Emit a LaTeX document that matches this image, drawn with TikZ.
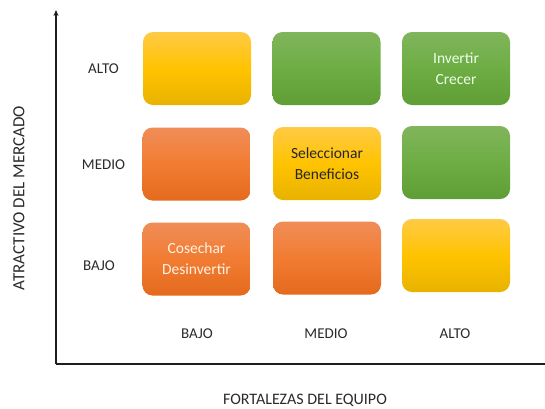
\documentclass[tikz,border=0pt]{standalone}
\usepackage{fontspec}
\setmainfont{Carlito}
\usetikzlibrary{arrows.meta}
\definecolor{ylT}{HTML}{FFCA45}
\definecolor{ylM}{HTML}{FFC300}
\definecolor{ylB}{HTML}{E8B200}
\definecolor{grT}{HTML}{80B55C}
\definecolor{grM}{HTML}{6EAD44}
\definecolor{grB}{HTML}{5E9E35}
\definecolor{orT}{HTML}{F08D58}
\definecolor{orM}{HTML}{F17C32}
\definecolor{orB}{HTML}{E46A1D}
\definecolor{axiscol}{HTML}{1E1E1E}
\definecolor{labcol}{HTML}{2A2A2A}
\begin{document}
\begin{tikzpicture}[x=1pt,y=-1pt,
  cell/.style={rounded corners=10pt, minimum width=108pt, minimum height=73pt,
    align=center, inner sep=0pt, font=\fontsize{15.5}{21}\selectfont},
  yel/.style={cell, top color=ylT, bottom color=ylB, middle color=ylM},
  grn/.style={cell, top color=grT, bottom color=grB, middle color=grM},
  org/.style={cell, top color=orT, bottom color=orB, middle color=orM},
  lab/.style={font=\fontsize{15}{18}\selectfont, text=labcol, inner sep=0pt},
  axis/.style={line width=1.4pt, draw=axiscol}]
\useasboundingbox (0,0) rectangle (545,408);
% boxes
\node[yel] (a1) at (197,68.5) {};
\node[grn] (a2) at (326.5,68.5) {};
\node[grn, text=white!92!green] (a3) at (456,68.5) {Invertir\\Crecer};
\node[org] (m1) at (196.5,164) {};
\node[yel, text=black!85] (m2) at (327,163.5) {Seleccionar\\Beneficios};
\node[grn] (m3) at (456,162.5) {};
\node[org, text=white!90!orange] (b1) at (196.5,259) {Cosechar\\Desinvertir};
\node[org] (b2) at (327,258) {};
\node[yel] (b3) at (456,255.5) {};
% row labels
\node[lab] (ralto) at (103.5,69) {ALTO};
\node[lab] (rmedio) at (103.5,164.5) {MEDIO};
\node[lab] (rbajo) at (99,266) {BAJO};
% column labels
\node[lab] (cbajo) at (197,334) {BAJO};
\node[lab] (cmedio) at (326,334) {MEDIO};
\node[lab] (calto) at (455,334) {ALTO};
% axes
\coordinate (o) at (56,364);
\coordinate (ytop) at (56,10);
\coordinate (xend) at (545,364);
\draw[axis, -{Stealth[length=6pt,width=5pt]}] (o) -- (ytop);
\draw[axis] (o) -- (xend);
% axis titles
\node[lab, font=\fontsize{16}{18}\selectfont] (xt) at (305,400) {FORTALEZAS DEL EQUIPO};
\node[lab, font=\fontsize{17}{18}\selectfont, rotate=90] (yt) at (19,198) {ATRACTIVO DEL MERCADO};
\end{tikzpicture}
\end{document}
